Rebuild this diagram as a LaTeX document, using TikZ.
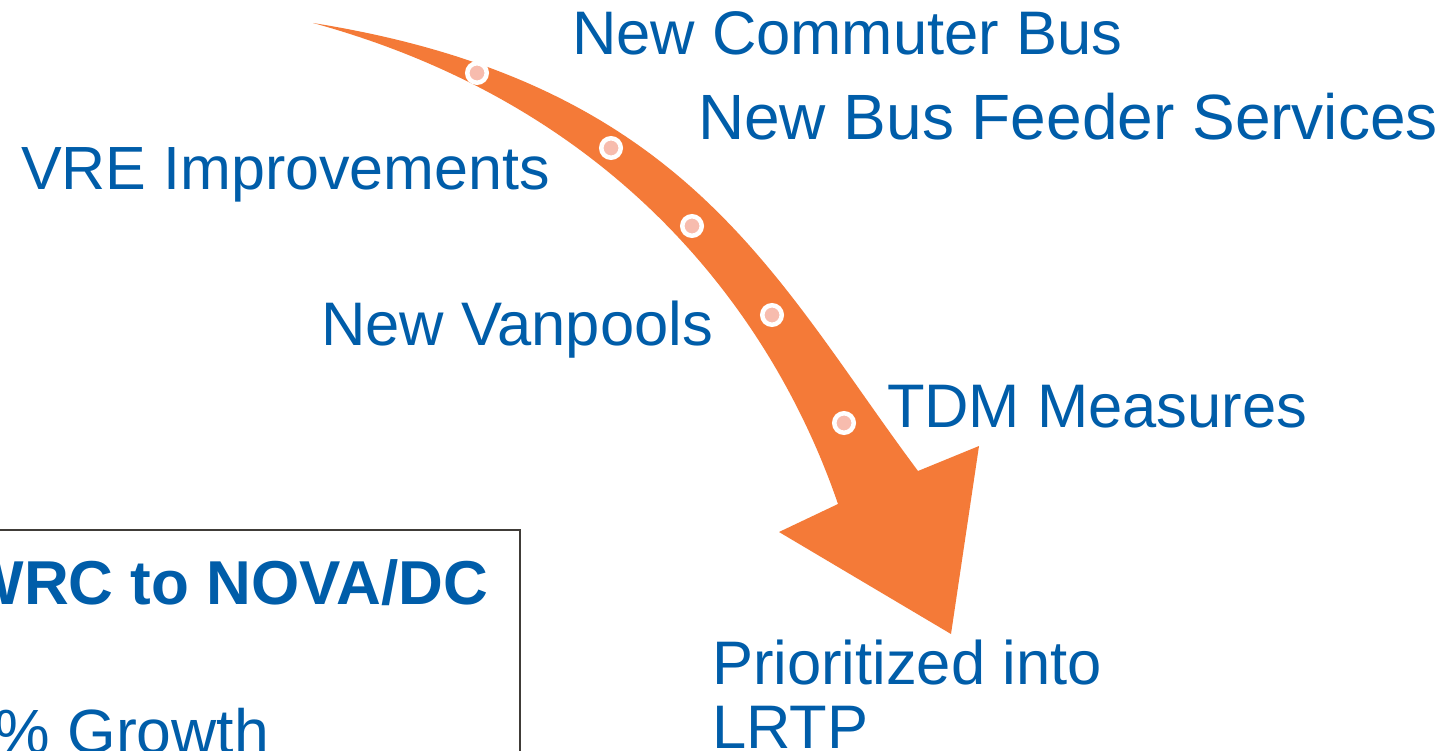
\documentclass[tikz,border=0pt]{standalone}
\usepackage{fontspec}
\setmainfont{Liberation Sans}
\definecolor{txtblue}{RGB}{0,93,169}
\definecolor{arroworange}{RGB}{244,122,56}
\definecolor{dotpink}{RGB}{247,188,174}
\definecolor{boxline}{RGB}{64,60,56}
\tikzset{
  lbl/.style={anchor=base west, inner sep=0pt, outer sep=0pt, text=txtblue,
    font=\fontsize{61.5pt}{64pt}\selectfont},
  boldlbl/.style={anchor=base east, inner sep=0pt, outer sep=0pt, text=txtblue,
    font=\fontsize{62pt}{64pt}\selectfont\bfseries},
  ringdot/.style={circle, fill=dotpink, draw=white, line width=4.5pt,
    minimum size=19.5pt, inner sep=0pt}
}
\begin{document}
\begin{tikzpicture}[x=1pt,y=-1pt]
\useasboundingbox (0,0) rectangle (1447,751);
\clip (0,0) rectangle (1447,751);
\fill[white] (0,0) rectangle (1447,751);

% curved arrow
\fill[arroworange]
  (313,23) .. controls (688,83) and (774,278) .. (918,471)
  -- (979,446) -- (951,634) -- (779,532) -- (838,504)
  .. controls (783,343) and (641,113) .. (313,23) -- cycle;

% dots on the arrow
\node[ringdot] (d1) at (477,73) {};
\node[ringdot] (d2) at (611,148) {};
\node[ringdot] (d3) at (692,226) {};
\node[ringdot] (d4) at (772,315) {};
\node[ringdot] (d5) at (844,423) {};

% labels
\node[lbl] (bus) at (572,55) {New Commuter Bus};
\node[lbl, font=\fontsize{64pt}{66pt}\selectfont] (feeder) at (698,140) {New Bus Feeder Services};
\node[lbl, font=\fontsize{61pt}{64pt}\selectfont] (vre) at (21,190) {VRE Improvements};
\node[lbl] (van) at (321,345) {New Vanpools};
\node[lbl] (tdm) at (887,427) {TDM Measures};
\node[lbl, align=left, anchor=north west, font=\fontsize{61.5pt}{64pt}\selectfont] (lrtp) at (712,640) {Prioritized into\\LRTP};

% box
\draw[boxline, line width=1.6pt] (-20,530) rectangle (520,780);
\node[boldlbl] (box1) at (488,604) {WRC to NOVA/DC};
\node[lbl, anchor=base east, font=\fontsize{62.5pt}{64pt}\selectfont] (box2) at (269,753) {\% Growth};
\end{tikzpicture}
\end{document}
